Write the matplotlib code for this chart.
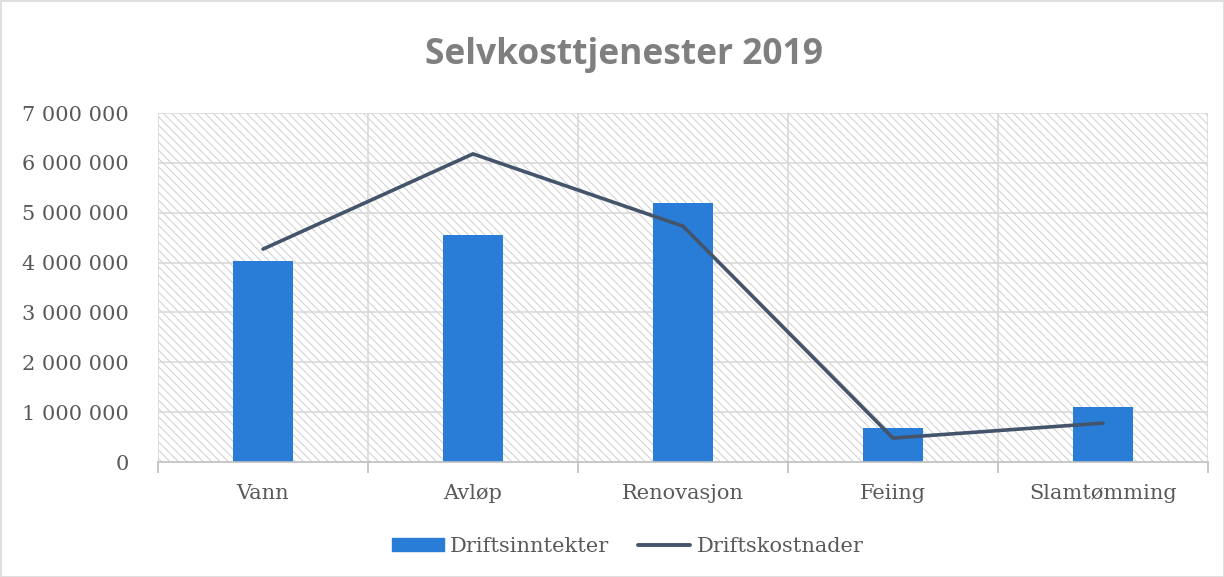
import matplotlib.pyplot as plt
import numpy as np
from matplotlib.patches import Rectangle
from matplotlib.lines import Line2D
from matplotlib.ticker import FuncFormatter

categories = ['Vann', 'Avløp', 'Renovasjon', 'Feiing', 'Slamtømming']
driftsinntekter = [4030000, 4550000, 5190000, 680000, 1100000]
driftskostnader = [4270000, 6180000, 4730000, 480000, 780000]

BAR_COLOR = '#2A7DD6'
LINE_COLOR = '#44546A'
TEXT_COLOR = '#595959'
TITLE_COLOR = '#7F7F7F'
GRID_COLOR = '#D9D9D9'
LABEL_SIZE = 15

plt.rcParams['hatch.linewidth'] = 0.7

fig = plt.figure(figsize=(12.24, 5.77), dpi=100)
ax = fig.add_axes([158 / 1224, 1 - 462 / 577, 1050 / 1224, 349 / 577])

x = np.arange(len(categories))

# hatched plot background
bg = Rectangle((0, 0), 1, 1, transform=ax.transAxes, facecolor='white',
               edgecolor='#CFCFCF', hatch='\\\\\\\\', linewidth=0, zorder=0)
ax.add_patch(bg)

ax.bar(x, driftsinntekter, width=0.286, color=BAR_COLOR, zorder=3,
       label='Driftsinntekter')
ax.plot(x, driftskostnader, color=LINE_COLOR, linewidth=2.6, zorder=4,
        solid_capstyle='round', label='Driftskostnader')

ax.set_xlim(-0.5, len(categories) - 0.5)
ax.set_ylim(0, 7000000)
ax.set_yticks(np.arange(0, 7000001, 1000000))
ax.yaxis.set_major_formatter(FuncFormatter(lambda v, p: f'{int(v):,}'.replace(',', ' ')))

ax.set_xticks(x)
ax.set_xticklabels(categories)
ax.set_xticks(np.arange(-0.5, len(categories)), minor=True)

for y in np.arange(1000000, 7000001, 1000000):
    ax.axhline(y, color=GRID_COLOR, linewidth=1.2, zorder=1)
for xv in np.arange(-0.5, len(categories)):
    ax.axvline(xv, color=GRID_COLOR, linewidth=1.2, zorder=1)

for s in ['top', 'right', 'left']:
    ax.spines[s].set_visible(False)
ax.spines['bottom'].set_color('#BFBFBF')
ax.spines['bottom'].set_linewidth(1.2)
ax.spines['bottom'].set_zorder(5)

ax.tick_params(axis='x', which='major', length=0, pad=16, labelsize=LABEL_SIZE,
               labelcolor=TEXT_COLOR)
ax.tick_params(axis='x', which='minor', length=8, width=1.2, color='#BFBFBF')
ax.tick_params(axis='y', length=0, pad=21, labelsize=LABEL_SIZE, labelcolor=TEXT_COLOR)
for lbl in ax.get_xticklabels() + ax.get_yticklabels():
    lbl.set_fontfamily('DejaVu Serif')

fig.text(0.5094, 1 - 55 / 577, 'Selvkosttjenester 2019', ha='center', va='center',
         fontsize=25.5, fontweight='bold', color=TITLE_COLOR, family='Open Sans')

handles = [Rectangle((0, 0), 1, 1, color=BAR_COLOR),
           Line2D([0], [0], color=LINE_COLOR, linewidth=2.8, solid_capstyle='round')]
fig.legend(handles, ['Driftsinntekter', 'Driftskostnader'], loc='center',
           bbox_to_anchor=(0.5127, 1 - 546 / 577), ncol=2, frameon=False,
           prop={'family': 'DejaVu Serif', 'size': LABEL_SIZE}, labelcolor=TEXT_COLOR,
           handlelength=2.5, handleheight=0.6, handletextpad=0.3, columnspacing=1.4)

fig.patches.append(Rectangle((0.5 / 1224, 0.5 / 577), 1 - 1 / 1224, 1 - 1 / 577,
                             transform=fig.transFigure, fill=False,
                             edgecolor=GRID_COLOR, linewidth=1.2))

fig.savefig('out.png', dpi=100)
